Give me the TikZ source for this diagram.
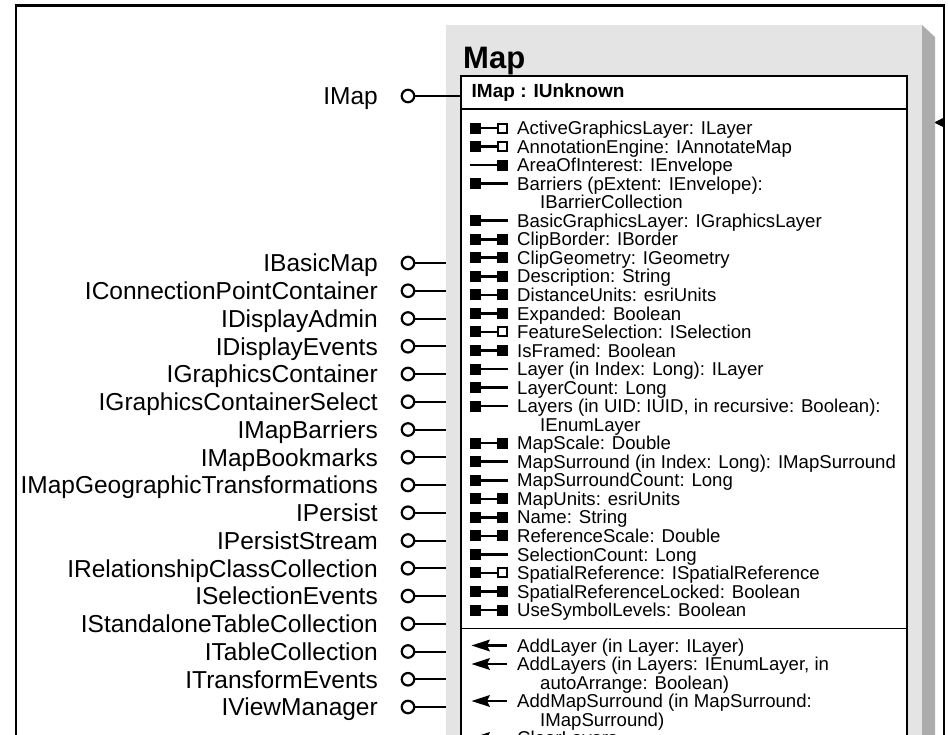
\documentclass[tikz,border=0pt]{standalone}
\usepackage{fontspec}
\setmainfont{Liberation Sans}
\definecolor{panelgrey}{HTML}{E4E4E4}
\definecolor{shadowgrey}{HTML}{ACACAC}
\begin{document}
\begin{tikzpicture}[x=1pt,y=-1pt,
  frame/.style={line width=2.3pt},
  boxline/.style={line width=1.4pt},
  iface/.style={inner sep=0pt, anchor=base east, font=\fontsize{24.5}{24.5}\selectfont},
  member/.style={inner sep=0pt, anchor=base west, font=\fontsize{18.6}{18.6}\selectfont},
  lollipop/.style={circle, draw, line width=2.2pt, minimum size=12.5pt, inner sep=0pt},
  conn/.style={line width=2pt},
  stem/.style={line width=2.6pt},
  pics/proprw/.style={code={
    \fill (-0.5,-5.5) rectangle (10.5,5.5);
    \fill (27,-5.5) rectangle (38,5.5);
    \draw[stem] (10,0) -- (28,0);}},
  pics/propro/.style={code={
    \fill (-0.5,-5.5) rectangle (10.5,5.5);
    \draw[stem] (10,0) -- (38,0);}},
  pics/propwo/.style={code={
    \draw[stem] (-0.5,0) -- (28,0);
    \fill (27,-5.5) rectangle (38,5.5);}},
  pics/propref/.style={code={
    \fill (-0.5,-5.5) rectangle (10.5,5.5);
    \draw[stem] (10,0) -- (28,0);
    \draw[line width=2pt] (28,-4.5) rectangle (37,4.5);}},
  pics/method/.style={code={
    \fill (1.5,0) -- (20,-6) -- (17,0) -- (20,6) -- cycle;
    \draw[stem] (17,0) -- (37,0);}}
]
\useasboundingbox (0,0) rectangle (948,734);
\clip (0,0) rectangle (948,734);

% outer frame with the inheritance arrowhead on its right edge
\draw[frame] (16.2,760) -- (16.2,5.5) -- (943.8,5.5) -- (943.8,760);
\fill (944,117.5) -- (934,122.5) -- (944,127.5) -- cycle;

% class panel with its drop shadow
\fill[shadowgrey] (922,25) -- (935,37) -- (935,760) -- (922,760) -- cycle;
\fill[panelgrey] (446,25) rectangle (922,760);
\coordinate (gl) at (446,0);
\coordinate (wl) at (461,0);

\node[inner sep=0pt, anchor=base west, font=\fontsize{31}{31}\selectfont\bfseries] (title) at (463,68) {Map};

% interface box
\filldraw[boxline, fill=white] (461,76) rectangle (907,760);
\draw[boxline] (461,109) -- (907,109);
\draw[boxline] (461,628.5) -- (907,628.5);
\node[inner sep=0pt, anchor=base west, font=\fontsize{19}{19}\selectfont\bfseries] (hdr) at (471.5,97) {IMap : IUnknown};

% properties: 1 read/write, 2 read, 3 write, 4 by reference, 0 continuation line
\foreach \kind/\txt [count=\i from 0] in {
  4/{ActiveGraphicsLayer: ILayer},
  4/{AnnotationEngine: IAnnotateMap},
  3/{AreaOfInterest: IEnvelope},
  2/{Barriers (pExtent: IEnvelope):},
  0/{IBarrierCollection},
  2/{BasicGraphicsLayer: IGraphicsLayer},
  1/{ClipBorder: IBorder},
  1/{ClipGeometry: IGeometry},
  1/{Description: String},
  1/{DistanceUnits: esriUnits},
  1/{Expanded: Boolean},
  4/{FeatureSelection: ISelection},
  1/{IsFramed: Boolean},
  2/{Layer (in Index: Long): ILayer},
  2/{LayerCount: Long},
  2/{Layers (in UID: IUID, in recursive: Boolean):},
  0/{IEnumLayer},
  1/{MapScale: Double},
  2/{MapSurround (in Index: Long): IMapSurround},
  2/{MapSurroundCount: Long},
  1/{MapUnits: esriUnits},
  1/{Name: String},
  1/{ReferenceScale: Double},
  2/{SelectionCount: Long},
  4/{SpatialReference: ISpatialReference},
  1/{SpatialReferenceLocked: Boolean},
  1/{UseSymbolLevels: Boolean}} {
  \pgfmathsetmacro\y{128+18.54*\i}
  \pgfmathsetmacro\tx{\kind==0 ? 540 : 517}
  \ifcase\kind
  \or \pic at (470,\y) {proprw};
  \or \pic at (470,\y) {propro};
  \or \pic at (470,\y) {propwo};
  \or \pic at (470,\y) {propref};
  \fi
  \node[member] (m\i) at (\tx,\y+6.6) {\txt};
}

% methods
\foreach \kind/\txt [count=\i from 0] in {
  1/{AddLayer (in Layer: ILayer)},
  1/{AddLayers (in Layers: IEnumLayer, in},
  0/{autoArrange: Boolean)},
  1/{AddMapSurround (in MapSurround:},
  0/{IMapSurround)},
  1/{ClearLayers}} {
  \pgfmathsetmacro\y{645.5+18.5*\i}
  \pgfmathsetmacro\tx{\kind==0 ? 540 : 517}
  \ifnum\kind=1 \pic at (470,\y) {method}; \fi
  \node[member] (f\i) at (\tx,\y+6.6) {\txt};
}

% default interface
\node[iface] (limap) at (378,104.8) {IMap};
\node[lollipop] (cimap) at (408,96) {};
\draw[conn] (cimap) -- (cimap -| wl);

% other interfaces
\foreach \nm [count=\k from 0] in {IBasicMap, IConnectionPointContainer, IDisplayAdmin,
  IDisplayEvents, IGraphicsContainer, IGraphicsContainerSelect, IMapBarriers,
  IMapBookmarks, IMapGeographicTransformations, IPersist, IPersistStream,
  IRelationshipClassCollection, ISelectionEvents, IStandaloneTableCollection,
  ITableCollection, ITransformEvents, IViewManager} {
  \pgfmathsetmacro\y{263+27.75*\k}
  \node[iface] (l\k) at (378,\y+8.8) {\nm};
  \node[lollipop] (c\k) at (408,\y) {};
  \draw[conn] (c\k) -- (c\k -| gl);
}
\end{tikzpicture}
\end{document}
